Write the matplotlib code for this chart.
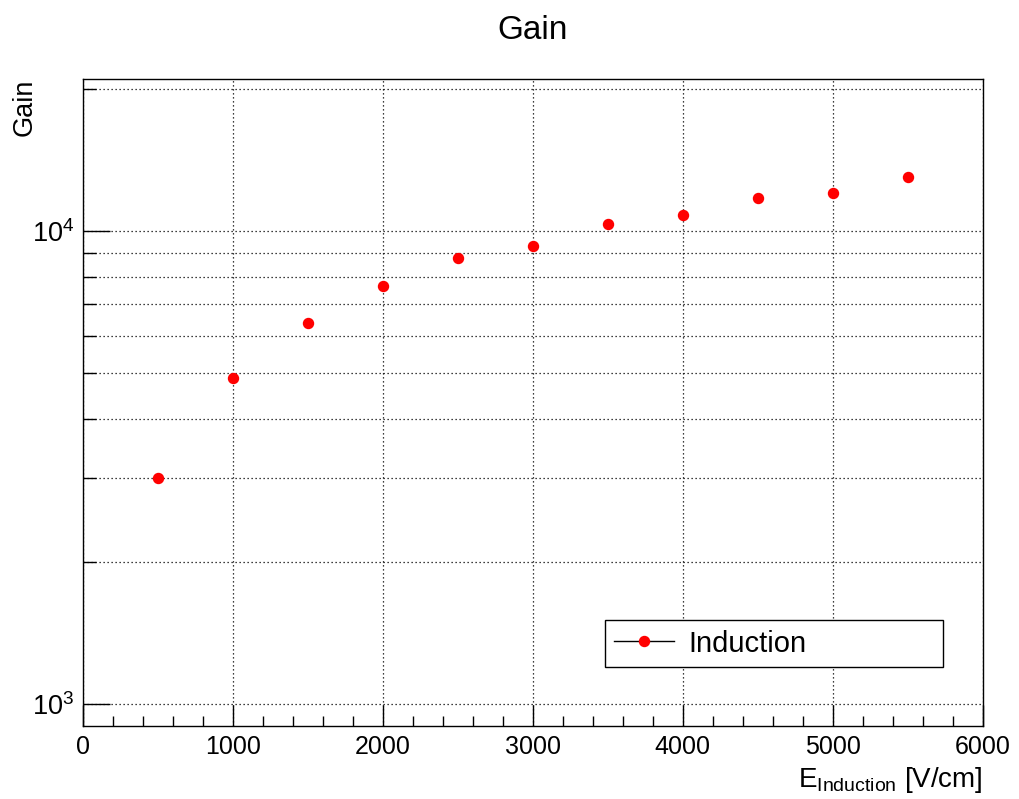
# Усиление в зависимости от индукционного поля (лог. шкала по Y)

import matplotlib.pyplot as plt
from matplotlib.lines import Line2D
from matplotlib.ticker import LogLocator, MultipleLocator, NullFormatter

plt.rcParams['font.family'] = ['Liberation Sans', 'DejaVu Sans']
plt.rcParams['mathtext.fontset'] = 'custom'
plt.rcParams['mathtext.rm'] = 'Liberation Sans'
plt.rcParams['mathtext.default'] = 'regular'

# Данные: поле индукции, В/см, и усиление
field = [500, 1000, 1500, 2000, 2500, 3000, 3500, 4000, 4500, 5000, 5500]
gain = [3000, 4900, 6400, 7650, 8780, 9280, 10350, 10790, 11720, 12050, 12980]
series_name = 'Induction'

fig = plt.figure(figsize=(10.19, 7.99), dpi=100)
ax = fig.add_axes([0.0812, 0.0917, 0.8832, 0.8094])

ax.plot(field, gain, 'o', color='red', ms=7.2, mec='red', zorder=3)

ax.set_yscale('log')
ax.set_xlim(0, 6000)
ax.set_ylim(901, 20950)

# Деления осей как в ROOT: внутрь, основные длиннее
ax.xaxis.set_major_locator(MultipleLocator(1000))
ax.xaxis.set_minor_locator(MultipleLocator(200))
ax.yaxis.set_major_locator(LogLocator(base=10))
ax.yaxis.set_minor_locator(LogLocator(base=10, subs=range(2, 10)))
ax.yaxis.set_minor_formatter(NullFormatter())

ax.tick_params(axis='both', which='both', direction='in', top=False,
               right=False, labelsize=18, color='black')
ax.tick_params(axis='x', which='major', length=15, width=1, pad=7)
ax.tick_params(axis='x', which='minor', length=7.2, width=1)
ax.tick_params(axis='y', which='major', length=19.4, width=1, pad=6,
               labelsize=19.5)
ax.tick_params(axis='y', which='minor', length=9.4, width=1)

for sp in ax.spines.values():
    sp.set_linewidth(1)
    sp.set_color('black')

# Сетка пунктиром
dots = (0, (1, 2.2))
ax.grid(True, which='major', axis='x', color='black', ls=dots, lw=0.9)
ax.grid(True, which='both', axis='y', color='black', ls=dots, lw=0.9)

# Подписи
ax.text(0.5, 1.0619, 'Gain', transform=ax.transAxes, ha='center',
        va='baseline', fontsize=24)
ax.set_xlabel(r'E$_{Induction}$ [V/cm]', fontsize=20, loc='right')
ax.xaxis.set_label_coords(1.0, -0.061)
ax.set_ylabel('Gain', fontsize=19.5, loc='top')
ax.yaxis.set_label_coords(-0.0505, 1.0)

# Легенда: линия с маркером
handle = Line2D([], [], color='black', lw=1, marker='o', mfc='red',
                mec='red', ms=7.2)
leg = ax.legend([handle], [series_name], loc='center',
                bbox_to_anchor=(0.58, 0.0888, 0.376, 0.0767), mode='expand',
                borderaxespad=0, fancybox=False, edgecolor='black',
                framealpha=1, fontsize=21, handlelength=2.05,
                handletextpad=0.5, borderpad=0.33)
leg.get_frame().set_linewidth(1)

fig.savefig('out.png', dpi=100)
